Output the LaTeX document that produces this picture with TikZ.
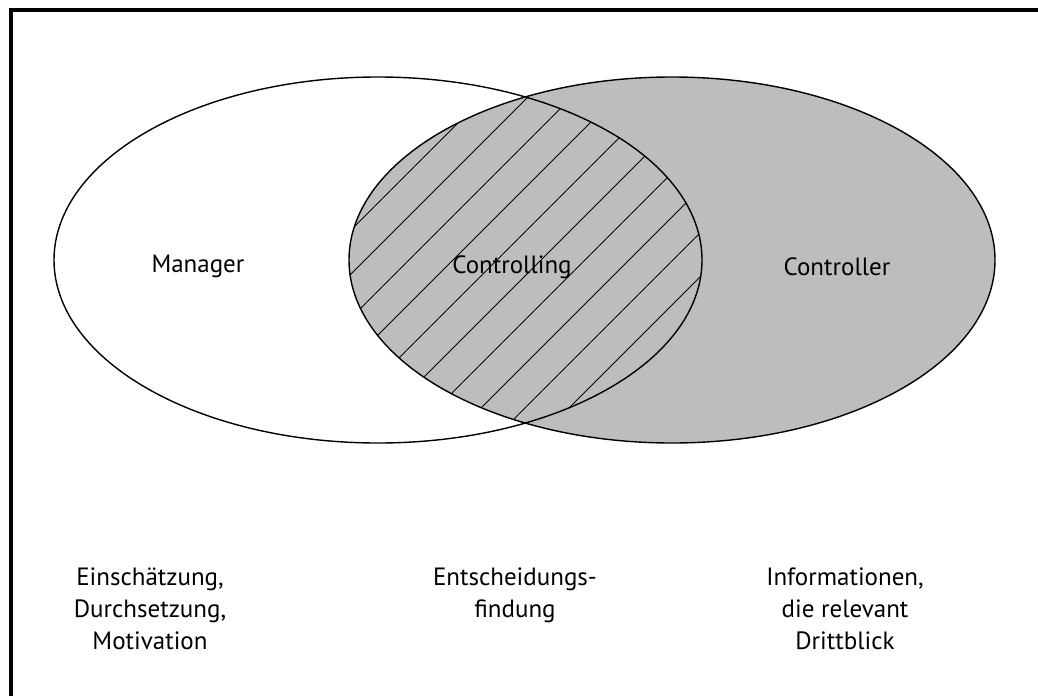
\documentclass[tikz,border=0pt]{standalone}
\usepackage{fontspec}
\setmainfont{PT Sans}
\begin{document}
\begin{tikzpicture}[x=1pt,y=-1pt,
  txt/.style={font=\fontsize{25}{32}\selectfont, inner sep=0pt, align=center},
  rim/.style={line width=1.4pt},
  hatch/.style={line width=0.9pt}]
\useasboundingbox (0,0) rectangle (1038,696);

%Frame (top and left)
\draw [line width=3.5pt] (1038,10) -- (11,10) -- (11,696);

%Shape: Ellipse [Controller, grey]
\fill [black!26] (672,260) ellipse [x radius=323, y radius=183];

%Hatching of the overlap
\begin{scope}
\clip (378,260) ellipse [x radius=324, y radius=183];
\clip (672,260) ellipse [x radius=323, y radius=183];
\foreach \c in {581,625,...,977}
  \draw [hatch] (\c-500,500) -- (\c,0);
\end{scope}

%Shape: Ellipse [Manager]
\draw [rim] (378,260) ellipse [x radius=324, y radius=183];
%Shape: Ellipse [Controller]
\draw [rim] (672,260) ellipse [x radius=323, y radius=183];

% Text Node
\node [txt] (manager) at (198,266) {Manager};
% Text Node
\node [txt] (controlling) at (512,267) {Controlling};
% Text Node
\node [txt] (controller) at (837,267) {Controller};

% Text Node
\node [txt, anchor=north] (mgrtasks) at (150,568) {Einschätzung,\\Durchsetzung,\\Motivation};
% Text Node
\node [txt, anchor=north] (ctgtasks) at (515,568) {Entscheidungs-\\findung};
% Text Node
\node [txt, anchor=north] (ctrtasks) at (845,568) {Informationen,\\die relevant\\Drittblick};

\end{tikzpicture}
\end{document}
